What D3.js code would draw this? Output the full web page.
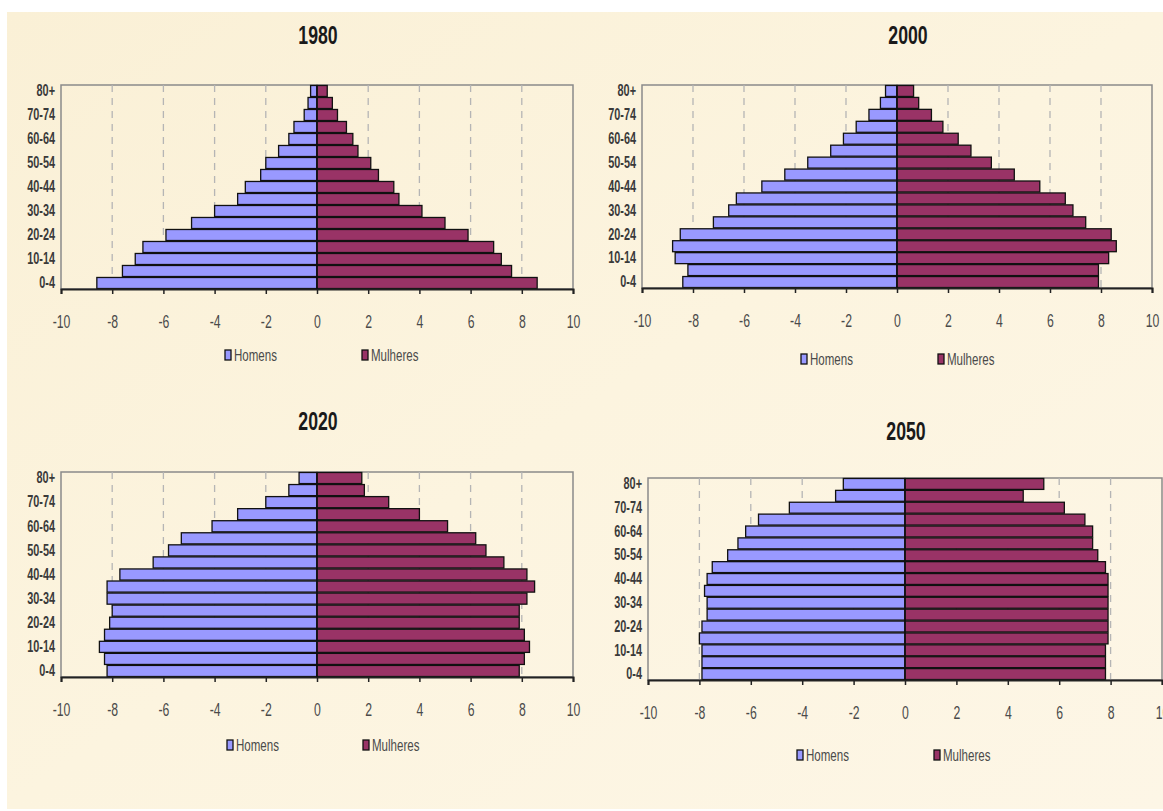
<!DOCTYPE html>
<html>
<head>
<meta charset="utf-8">
<script src="https://cdn.jsdelivr.net/npm/d3@7"></script>
<style>
  body { margin: 0; background: #ffffff; }
  svg text { font-family: "Liberation Sans", Arial, sans-serif; }
</style>
</head>
<body>
<div id="chart"></div>
<script>
// age groups, bottom to top
var ages = ['0-4', '5-9', '10-14', '15-19', '20-24', '25-29', '30-34', '35-39', '40-44',
    '45-49', '50-54', '55-59', '60-64', '65-69', '70-74', '75-79', '80+'];
var ageLabels = ['0-4', '10-14', '20-24', '30-34', '40-44', '50-54', '60-64', '70-74', '80+'];
var xTicks = [-10, -8, -6, -4, -2, 0, 2, 4, 6, 8, 10];
var seriesNames = ['Homens', 'Mulheres'];

// percent of population, 0-4 first
var homens1980 = [8.6, 7.6, 7.1, 6.8, 5.9, 4.9, 4.0, 3.1, 2.8, 2.2, 2.0, 1.5, 1.1, 0.9, 0.5, 0.35, 0.25];
var mulheres1980 = [8.6, 7.6, 7.2, 6.9, 5.9, 5.0, 4.1, 3.2, 3.0, 2.4, 2.1, 1.6, 1.4, 1.15, 0.8, 0.6, 0.4];
var homens2000 = [8.4, 8.2, 8.7, 8.8, 8.5, 7.2, 6.6, 6.3, 5.3, 4.4, 3.5, 2.6, 2.1, 1.6, 1.1, 0.65, 0.45];
var mulheres2000 = [7.9, 7.9, 8.3, 8.6, 8.4, 7.4, 6.9, 6.6, 5.6, 4.6, 3.7, 2.9, 2.4, 1.8, 1.35, 0.85, 0.65];
var homens2020 = [8.2, 8.3, 8.5, 8.3, 8.1, 8.0, 8.2, 8.2, 7.7, 6.4, 5.8, 5.3, 4.1, 3.1, 2.0, 1.1, 0.7];
var mulheres2020 = [7.9, 8.1, 8.3, 8.1, 7.9, 7.9, 8.2, 8.5, 8.2, 7.3, 6.6, 6.2, 5.1, 4.0, 2.8, 1.85, 1.75];
var homens2050 = [7.9, 7.9, 7.9, 8.0, 7.9, 7.7, 7.7, 7.8, 7.7, 7.5, 6.9, 6.5, 6.2, 5.7, 4.5, 2.7, 2.4];
var mulheres2050 = [7.8, 7.8, 7.8, 7.9, 7.9, 7.9, 7.9, 7.9, 7.9, 7.8, 7.5, 7.3, 7.3, 7.0, 6.2, 4.6, 5.4];

var colors = {Homens: '#9999ff', Mulheres: '#993366'};
var narrow = 0.68; // horizontal squeeze to mimic a condensed face

var svg = d3.select('#chart').append('svg')
    .attr('width', 1163).attr('height', 811);

// paper background
var defs = svg.append('defs');
var grad = defs.append('linearGradient').attr('id', 'paper')
    .attr('x1', 0).attr('y1', 0).attr('x2', 1).attr('y2', 1);
grad.append('stop').attr('offset', 0).attr('stop-color', '#faf0d6');
grad.append('stop').attr('offset', 0.5).attr('stop-color', '#fcf4df');
grad.append('stop').attr('offset', 1).attr('stop-color', '#fdf6e6');
svg.append('rect').attr('x', 7).attr('y', 12).attr('width', 1156).attr('height', 797)
    .attr('fill', 'url(#paper)');

var panels = [
    {title: '1980', homens: homens1980, mulheres: mulheres1980,
     x0: 61, x1: 573, top: 85, bottom: 289, titleX: 318, titleY: 35, legendY: 355, legendX: [228, 365]},
    {title: '2000', homens: homens2000, mulheres: mulheres2000,
     x0: 642, x1: 1152, top: 85, bottom: 288, titleX: 908, titleY: 35, legendY: 359, legendX: [804, 941]},
    {title: '2020', homens: homens2020, mulheres: mulheres2020,
     x0: 61, x1: 573, top: 472, bottom: 677, titleX: 318, titleY: 421, legendY: 745, legendX: [230, 366]},
    {title: '2050', homens: homens2050, mulheres: mulheres2050,
     x0: 648, x1: 1162, top: 478, bottom: 680, titleX: 906, titleY: 431, legendY: 755, legendX: [800, 937]}
];

panels.forEach(drawPyramid);

function squeeze(sel, tx, ty) {
    sel.attr('transform', 'translate(' + tx + ',' + ty + ') scale(' + narrow + ',1)');
}

function drawPyramid(p) {
    var g = svg.append('g');

    var x = d3.scaleLinear().domain([-10, 10]).range([p.x0, p.x1]);
    var y = d3.scaleBand().domain(ages).range([p.bottom, p.top]).paddingInner(0.08).paddingOuter(0.04);

    // title
    g.append('text')
        .attr('text-anchor', 'middle').attr('dominant-baseline', 'central')
        .style('font-size', '26px').style('font-weight', 'bold').attr('fill', '#1a1a1a')
        .text(p.title)
        .call(squeeze, p.titleX, p.titleY);

    // plot frame
    g.append('rect')
        .attr('x', p.x0).attr('y', p.top)
        .attr('width', p.x1 - p.x0).attr('height', p.bottom - p.top)
        .attr('fill', 'none').attr('stroke', '#8a8a8a').attr('stroke-width', 1.5);

    // dashed gridlines
    g.selectAll('.grid').data(xTicks.filter(function(d) { return d !== 0 && Math.abs(d) !== 10; }))
        .enter().append('line')
        .attr('x1', function(d) { return x(d); }).attr('x2', function(d) { return x(d); })
        .attr('y1', p.top).attr('y2', p.bottom)
        .attr('stroke', '#b5b5b5').attr('stroke-width', 1.3).attr('stroke-dasharray', '7,6');

    // bars
    g.selectAll('.bar-h').data(p.homens).enter().append('rect')
        .attr('x', function(d) { return x(-d); })
        .attr('y', function(d, i) { return y(ages[i]); })
        .attr('width', function(d) { return x(0) - x(-d); })
        .attr('height', y.bandwidth())
        .attr('fill', colors.Homens).attr('stroke', '#111').attr('stroke-width', 1.3);

    g.selectAll('.bar-m').data(p.mulheres).enter().append('rect')
        .attr('x', x(0))
        .attr('y', function(d, i) { return y(ages[i]); })
        .attr('width', function(d) { return x(d) - x(0); })
        .attr('height', y.bandwidth())
        .attr('fill', colors.Mulheres).attr('stroke', '#111').attr('stroke-width', 1.3);

    // x axis
    var xAxis = g.append('g')
        .attr('transform', 'translate(0,' + p.bottom + ')')
        .call(d3.axisBottom(x).tickValues(xTicks).tickSize(5)
            .tickFormat(function(d) { return String(d); }));
    xAxis.select('.domain').attr('stroke', '#222').attr('stroke-width', 2);
    xAxis.selectAll('.tick line').attr('stroke', '#222').attr('stroke-width', 1.5);
    xAxis.selectAll('.tick text')
        .attr('y', 0).attr('dy', null).attr('dominant-baseline', 'central')
        .style('font-size', '18px').attr('fill', '#4a4a4a')
        .attr('transform', 'translate(0,33) scale(' + narrow + ',1)');

    // centre axis
    g.append('line')
        .attr('x1', x(0)).attr('x2', x(0)).attr('y1', p.top).attr('y2', p.bottom)
        .attr('stroke', '#111').attr('stroke-width', 1.5);

    // age labels
    g.selectAll('.age').data(ageLabels).enter().append('text')
        .attr('text-anchor', 'end').attr('dominant-baseline', 'central')
        .style('font-size', '16px').style('font-weight', 'bold').attr('fill', '#3a3a3a')
        .text(function(d) { return d; })
        .each(function(d) {
            d3.select(this).call(squeeze, p.x0 - 6, y(d) + y.bandwidth() / 2);
        });

    // legend
    seriesNames.forEach(function(name, i) {
        var lx = p.legendX[i];
        g.append('rect')
            .attr('x', lx - 3).attr('y', p.legendY - 5)
            .attr('width', 6).attr('height', 10)
            .attr('fill', colors[name]).attr('stroke', '#111').attr('stroke-width', 1.3);
        g.append('text')
            .attr('dominant-baseline', 'central')
            .style('font-size', '17px').attr('fill', '#4a4a4a')
            .text(name)
            .call(squeeze, lx + 6, p.legendY);
    });
}
</script>
</body>
</html>
